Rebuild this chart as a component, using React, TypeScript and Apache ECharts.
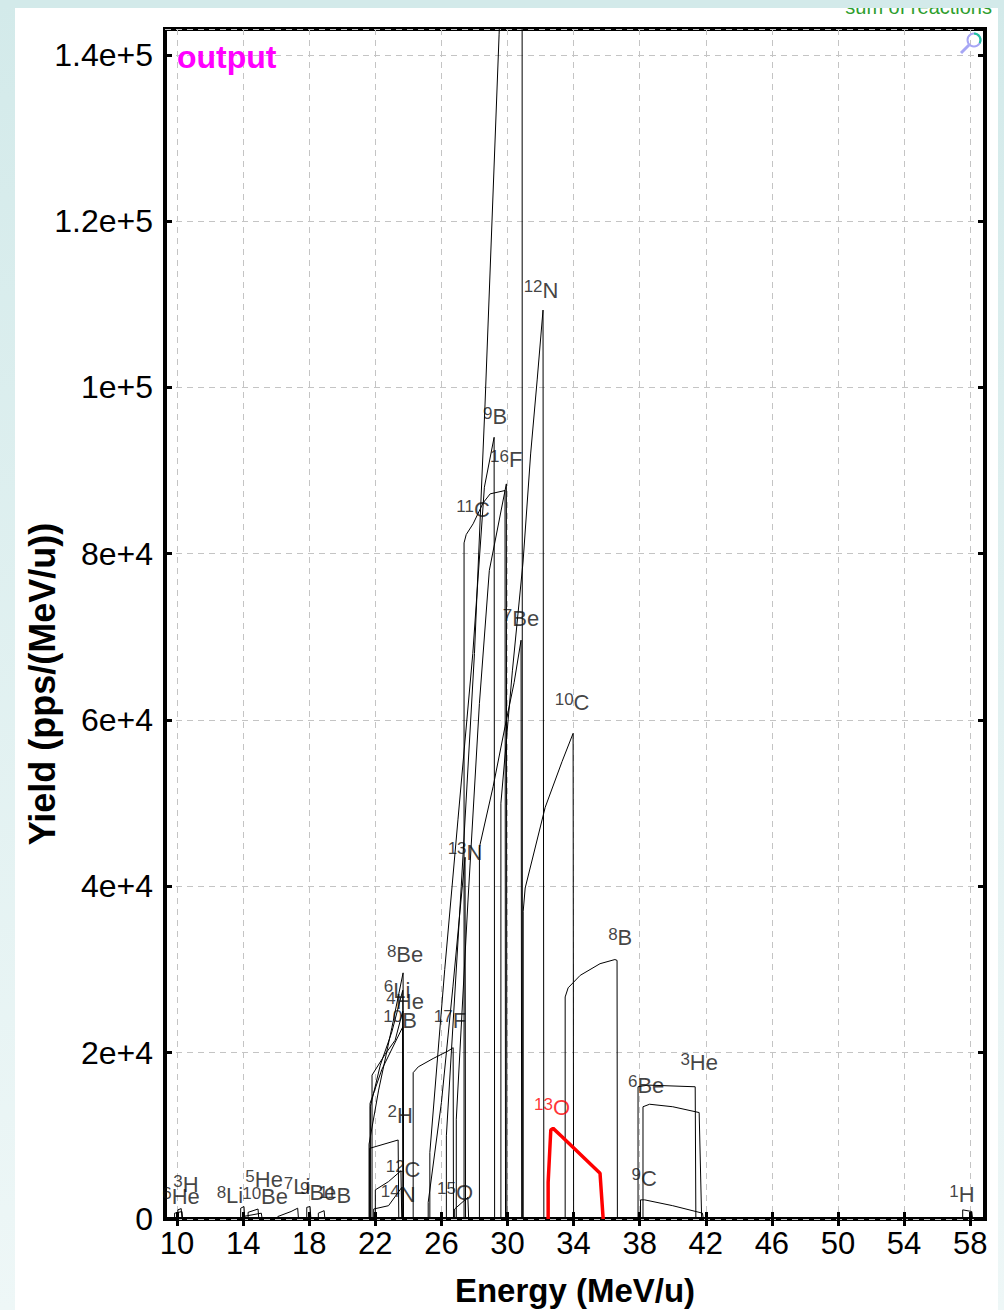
import { useEffect, useRef } from "react";
import * as echarts from "echarts";

// ---- axes ----
const xTicks = [10, 14, 18, 22, 26, 30, 34, 38, 42, 46, 50, 54, 58];
const xMin = 9.27;
const xMax = 58.9;
const yMin = 0;
const yMax = 143100;
const yStep = 20000;

// ---- isotope yield curves: [energy MeV/u, yield pps/(MeV/u)] ----
const c3H = [[9.85, 0], [9.85, 700], [10.3, 900], [10.34, 0]];
const c6He = [[10.05, 0], [10.05, 1100], [10.25, 1250], [10.3, 0]];
const c8Li = [[13.85, 0], [13.85, 1300], [14.05, 1500], [14.1, 0]];
const c5He = [[14.0, 0], [14.0, 300], [15.1, 700], [15.15, 0]];
const c10Be = [[14.3, 0], [14.3, 800], [14.9, 1200], [14.95, 0]];
const c7Li = [[16.1, 0], [16.1, 300], [16.9, 900], [17.3, 1300], [17.35, 0]];
const c9Be = [[17.85, 0], [17.85, 1400], [18.05, 1500], [18.1, 0]];
const c11B = [[18.55, 0], [18.55, 700], [18.9, 1000], [18.95, 0]];
const c8Be = [[21.62, 0], [21.62, 9000], [22.2, 15500], [23.0, 23000], [23.68, 29600], [23.7, 0]];
const c6Li = [[21.7, 0], [21.7, 13500], [22.3, 18500], [23.0, 22500], [23.66, 27500], [23.69, 0]];
const c4He = [[21.8, 0], [21.8, 17300], [22.59, 19800], [23.2, 21500], [23.66, 25000], [23.69, 0]];
const c10B = [[21.68, 0], [21.68, 13900], [22.4, 18000], [23.66, 23100], [23.69, 0]];
const c2H = [[21.66, 0], [21.66, 8500], [23.38, 9500], [23.42, 0]];
const c12C = [[22.0, 0], [22.0, 3500], [22.8, 4500], [23.55, 5800], [23.6, 0]];
const c14N = [[21.9, 0], [21.9, 1200], [22.8, 1600], [23.6, 3800], [23.65, 0]];
const c17F = [[24.29, 0], [24.29, 17600], [24.6, 18300], [25.5, 19300], [26.4, 20200], [26.71, 20600], [26.73, 0]];
const c15O = [[26.8, 0], [26.8, 1200], [27.6, 2600], [27.65, 0]];
const c13N = [[25.2, 0], [25.2, 2000], [26.0, 14000], [26.7, 28000], [27.43, 43500], [27.46, 0]];
const c9B = [[25.3, 0], [25.3, 8000], [26.2, 30000], [27.0, 48000], [27.9, 68000], [28.6, 88000], [29.19, 94000], [29.22, 0]];
const cTop = [[26.3, 0], [26.3, 10000], [27.2, 40000], [28.0, 68000], [28.64, 98000], [29.49, 142400], [30.2, 180000], [30.88, 200000], [30.9, 0]];
const c16F = [[26.9, 0], [26.9, 12000], [27.6, 38000], [28.3, 62000], [28.9, 78000], [29.93, 88400], [29.96, 0]];
const c11C = [[27.37, 0], [27.37, 81300], [27.5, 82300], [27.92, 83600], [28.52, 86100], [28.95, 87200], [29.85, 87600], [29.88, 0]];
const c7Be = [[28.3, 0], [28.3, 44700], [29.13, 52000], [29.85, 59200], [30.4, 64500], [30.82, 69600], [30.86, 0]];
const c12N = [[29.6, 0], [29.6, 50000], [30.3, 66000], [30.94, 79000], [31.4, 92000], [31.8, 101000], [32.15, 109300], [32.2, 0]];
const c10C = [[30.95, 0], [30.95, 37000], [31.07, 39800], [32.28, 49500], [33.3, 55000], [33.97, 58400], [34.0, 0]];
const c8B = [[33.49, 0], [33.49, 26700], [33.67, 27800], [34.4, 29300], [35.6, 30700], [36.5, 31200], [36.63, 31100], [36.65, 0]];
const c6Be = [[37.9, 0], [37.9, 15900], [38.5, 16100], [41.36, 15900], [41.4, 0]];
const c3He = [[38.2, 0], [38.2, 13500], [38.6, 13800], [40.0, 13500], [41.6, 12800], [41.75, 0]];
const c9C = [[38.05, 0], [38.05, 2300], [38.3, 2300], [40.0, 1600], [41.8, 700], [41.85, 0]];
const c1H = [[57.55, 0], [57.55, 1100], [58.1, 900], [58.15, 0]];
const c13O = [[32.46, 0], [32.46, 4400], [32.62, 10700], [32.76, 10900], [33.3, 9900], [35.6, 5500], [35.79, 0]];

const blackCurves = [
  c3H, c6He, c8Li, c5He, c10Be, c7Li, c9Be, c11B, c8Be, c6Li, c4He, c10B, c2H, c12C, c14N,
  c17F, c15O, c13N, c9B, cTop, c16F, c11C, c7Be, c12N, c10C, c8B, c6Be, c3He, c9C, c1H,
];
const selectedCurve = c13O;

// ---- isotope labels (anchor in data coordinates) ----
const labelNames = ["3H", "6He", "8Li", "10Be", "5He", "7Li", "9Be", "11B", "8Be", "6Li", "4He", "10B", "17F", "2H", "12C", "14N", "15O", "13N", "9B", "16F", "11C", "7Be", "12N", "10C", "8B", "6Be", "3He", "9C", "1H", "13O"];
const labelE = [10.54, 10.24, 13.2, 15.33, 15.27, 17.26, 18.54, 19.56, 23.8, 23.32, 23.8, 23.5, 26.52, 23.5, 23.68, 23.38, 26.83, 27.43, 29.25, 29.92, 27.92, 30.82, 32.03, 33.91, 36.82, 38.39, 41.6, 38.27, 57.5, 32.7];
const labelY = [4100, 2650, 2800, 2650, 4700, 3850, 3200, 2800, 31800, 27500, 26100, 23900, 23900, 12500, 5900, 2900, 3200, 44100, 96500, 91300, 85300, 72200, 111700, 62100, 33800, 16100, 18800, 4900, 2900, 13350];

const FONT = "Liberation Sans";

export default function App() {
  const ref = useRef<HTMLDivElement>(null);

  useEffect(() => {
    if (!ref.current) return;
    const chart = echarts.init(ref.current, undefined, { renderer: "svg" });

    const series: any[] = blackCurves.map((d) => ({
      type: "line",
      data: d,
      showSymbol: false,
      symbol: "none",
      silent: true,
      clip: true,
      lineStyle: { color: "#000", width: 1 },
      z: 3,
    }));
    series.push({
      type: "line",
      data: selectedCurve,
      showSymbol: false,
      symbol: "none",
      silent: true,
      clip: true,
      lineStyle: { color: "#ff0000", width: 3.5 },
      z: 4,
    });
    series.push({
      type: "scatter",
      silent: true,
      symbolSize: 1,
      itemStyle: { color: "transparent" },
      z: 5,
      data: labelNames.map((n, i) => ({
        name: n,
        value: [labelE[i], labelY[i]],
        label: n === "13O" ? { color: "#ff0000" } : undefined,
      })),
      label: {
        show: true,
        position: "inside",
        color: "#111",
        fontFamily: FONT,
        formatter: (p: any) => {
          const m = /^(\d+)(.*)$/.exec(p.name);
          return m ? `{m|${m[1]}}{s|${m[2]}}` : p.name;
        },
        rich: {
          m: { fontSize: 17, fontFamily: FONT, verticalAlign: "top", lineHeight: 24 },
          s: { fontSize: 22, fontFamily: FONT, lineHeight: 24 },
        },
      },
    });

    const tickStyle = { show: true, inside: true, length: 7, lineStyle: { color: "#000", width: 3 } };
    const gridLine = { show: true, lineStyle: { color: "#c4c4c4", type: [6, 5], width: 1 } };

    chart.setOption({
      animation: false,
      backgroundColor: "#ffffff",
      grid: {
        left: 150,
        right: 13,
        top: 21,
        bottom: 91,
        show: true,
        borderColor: "#000",
        borderWidth: 4,
        backgroundColor: "#fff",
        outerBoundsMode: "none",
        containLabel: false,
      },
      xAxis: [
        {
          type: "value",
          position: "bottom",
          min: xMin,
          max: xMax,
          axisLine: { show: false },
          axisTick: { ...tickStyle, customValues: xTicks },
          axisLabel: { customValues: xTicks, fontSize: 31, color: "#000", fontFamily: FONT, margin: 9 },
          splitLine: gridLine,
          name: "Energy (MeV/u)",
          nameLocation: "middle",
          nameGap: 55,
          nameTextStyle: { fontSize: 33, fontWeight: "bold", color: "#000", fontFamily: FONT },
        },
        {
          type: "value",
          position: "top",
          min: xMin,
          max: xMax,
          axisLine: { show: false },
          axisTick: { ...tickStyle, customValues: xTicks },
          axisLabel: { show: false },
          splitLine: { show: false },
        },
      ],
      yAxis: [
        {
          type: "value",
          position: "left",
          min: yMin,
          max: yMax,
          interval: yStep,
          axisLine: { show: false },
          axisTick: tickStyle,
          axisLabel: {
            fontSize: 32,
            color: "#000",
            fontFamily: FONT,
            margin: 12,
            showMaxLabel: false,
            formatter: (v: number) => (v === 0 ? "0" : v.toExponential()),
          },
          splitLine: gridLine,
        },
        {
          type: "value",
          position: "right",
          min: yMin,
          max: yMax,
          interval: yStep,
          axisLine: { show: false },
          axisTick: tickStyle,
          axisLabel: { show: false },
          splitLine: { show: false },
        },
      ],
      graphic: [
        {
          type: "text",
          x: 27,
          y: 676,
          rotation: Math.PI / 2,
          z: 10,
          style: { text: "Yield (pps/(MeV/u))", fill: "#000", fontSize: 36, fontWeight: "bold", fontFamily: FONT, align: "center", verticalAlign: "middle" },
        },
        {
          type: "text",
          x: 162,
          y: 49,
          z: 10,
          style: { text: "output", fill: "#ff00ff", fontSize: 32, fontWeight: "bold", fontFamily: FONT, verticalAlign: "middle" },
        },
        {
          type: "text",
          x: 977,
          y: -1,
          z: 10,
          style: { text: "sum of reactions", fill: "#2e9e2e", fontSize: 20, fontFamily: FONT, align: "right", verticalAlign: "middle" },
        },
        {
          type: "circle",
          z: 10,
          shape: { cx: 959, cy: 32, r: 6.5 },
          style: { fill: "none", stroke: "#a6a6f5", lineWidth: 2 },
        },
        {
          type: "arc",
          z: 11,
          shape: { cx: 959, cy: 32, r: 6.5, startAngle: -Math.PI / 2, endAngle: Math.PI / 6 },
          style: { fill: "none", stroke: "#22c3a0", lineWidth: 2 },
        },
        {
          type: "line",
          z: 10,
          shape: { x1: 954, y1: 37, x2: 946, y2: 45 },
          style: { stroke: "#a6a6f5", lineWidth: 3 },
        },
      ],
      series,
    });

    return () => chart.dispose();
  }, []);

  return (
    <div style={{ position: "absolute", left: 0, top: 0, width: 1004, height: 1310, overflow: "hidden", background: "linear-gradient(#d3eaea, #eef7f7)" }}>
      <div style={{ position: "absolute", left: 0, top: 0, width: 1004, height: 8, background: "#d3eaea" }} />
      <div ref={ref} style={{ position: "absolute", left: 15, top: 8, width: 983, height: 1302, background: "#fff", overflow: "hidden" }} />
    </div>
  );
}
